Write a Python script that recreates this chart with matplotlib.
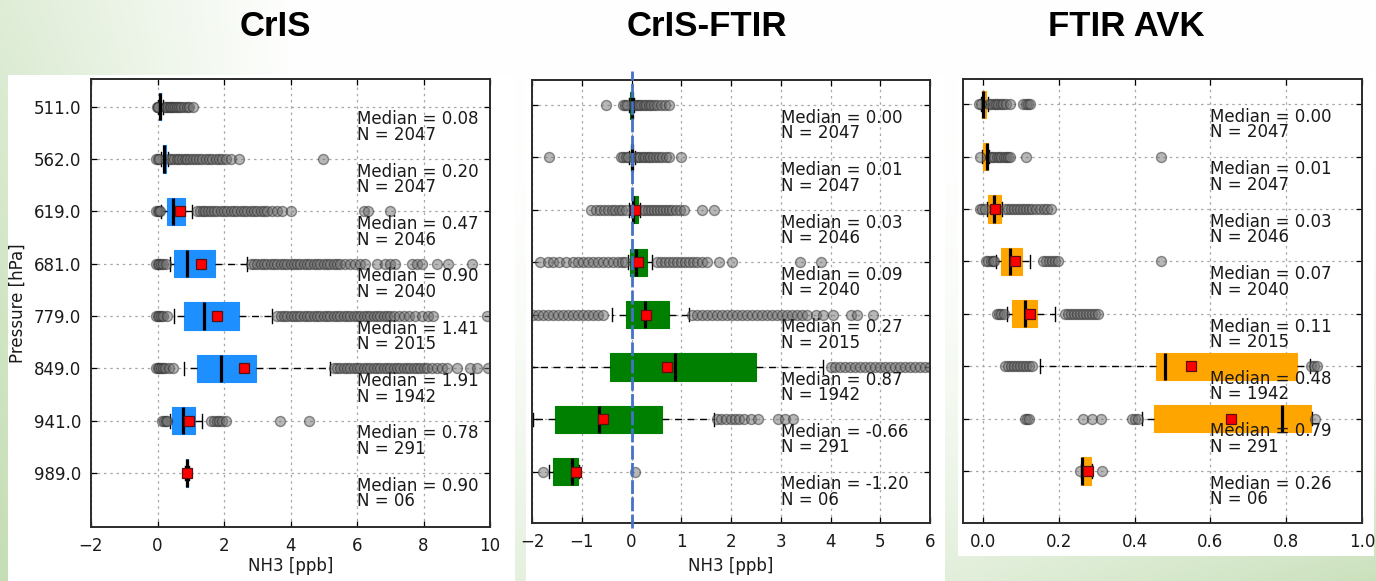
import numpy as np
import matplotlib
matplotlib.use("Agg")
import matplotlib.pyplot as plt
from matplotlib.patches import Rectangle

nan = np.nan

# ---------------------------------------------------------------- data
pressure_levels = ["511.0", "562.0", "619.0", "681.0", "779.0", "849.0", "941.0", "989.0"]
sample_counts = ["2047", "2047", "2046", "2040", "2015", "1942", "291", "06"]

# CrIS retrieval
cris_median = [0.08, 0.20, 0.47, 0.90, 1.41, 1.91, 0.78, 0.90]
cris_q1 = [0.05, 0.16, 0.29, 0.50, 0.80, 1.19, 0.45, 0.86]
cris_q3 = [0.12, 0.26, 0.84, 1.72, 2.45, 2.96, 1.12, 0.93]
cris_whislo = [0.02, 0.12, 0.12, 0.38, 0.50, 0.80, 0.38, 0.84]
cris_whishi = [0.18, 0.32, 1.05, 2.70, 3.45, 5.20, 1.35, 0.95]
cris_mean = [nan, nan, 0.69, 1.31, 1.80, 2.60, 0.94, 0.90]
cris_fliers = [
    [-0.02, 0.0, 0.02, 0.22, 0.27, 0.32, 0.37, 0.42, 0.48, 0.54, 0.6, 0.66, 0.72, 0.8, 0.88, 0.96, 1.06],
    [-0.04, 0.0, 0.04, 0.36, 0.42, 0.5, 0.58, 0.66, 0.74, 0.82, 0.9, 0.98, 1.06, 1.15, 1.25, 1.35,
     1.45, 1.55, 1.65, 1.75, 1.85, 1.95, 2.05, 2.2, 2.45, 4.98],
    [-0.04, 0.0, 0.04, 0.08, 1.2, 1.28, 1.36, 1.44, 1.52, 1.6, 1.7, 1.8, 1.9, 2.0, 2.1, 2.2, 2.3, 2.4,
     2.5, 2.6, 2.7, 2.8, 2.9, 3.0, 3.1, 3.2, 3.3, 3.45, 3.6, 3.75, 4.0, 6.2, 6.32, 7.0],
    [-0.04, 0.0, 0.04, 0.1, 0.18, 0.26, 2.82, 2.9, 3.0, 3.1, 3.2, 3.3, 3.4, 3.5, 3.6, 3.7, 3.8, 3.9,
     4.0, 4.1, 4.2, 4.3, 4.4, 4.5, 4.6, 4.7, 4.8, 4.9, 5.0, 5.1, 5.2, 5.3, 5.4, 5.5, 5.65, 5.8, 5.95,
     6.1, 6.25, 6.6, 6.85, 7.0, 7.15, 7.65, 7.8, 7.95, 8.4, 8.75, 9.45],
    [-0.05, 0.0, 0.05, 0.1, 0.18, 0.28, 3.6, 3.7, 3.8, 3.9, 4.0, 4.1, 4.2, 4.3, 4.4, 4.5, 4.6, 4.7,
     4.8, 4.9, 5.0, 5.1, 5.2, 5.3, 5.4, 5.5, 5.6, 5.7, 5.8, 5.9, 6.0, 6.1, 6.2, 6.3, 6.4, 6.5, 6.6,
     6.7, 6.8, 6.9, 7.0, 7.1, 7.25, 7.4, 7.55, 7.75, 7.95, 8.15, 8.3, 9.9],
    [-0.05, 0.0, 0.05, 0.1, 0.16, 0.24, 0.34, 0.46, 5.3, 5.4, 5.5, 5.6, 5.7, 5.8, 5.9, 6.0, 6.1, 6.2,
     6.3, 6.4, 6.5, 6.6, 6.7, 6.8, 6.9, 7.0, 7.1, 7.2, 7.3, 7.4, 7.5, 7.6, 7.7, 7.8, 7.9, 8.0, 8.1,
     8.25, 8.4, 8.55, 8.7, 9.0, 9.4, 9.6, 9.95],
    [0.15, 0.2, 0.25, 0.3, 1.62, 1.7, 1.78, 1.86, 1.95, 2.05, 3.68, 4.55],
    [],
]

# CrIS minus FTIR
diff_median = [0.00, 0.01, 0.03, 0.09, 0.27, 0.87, -0.66, -1.20]
diff_q1 = [-0.03, -0.02, 0.00, -0.03, -0.11, -0.44, -1.53, -1.57]
diff_q3 = [0.03, 0.04, 0.14, 0.32, 0.76, 2.51, 0.62, -1.08]
diff_whislo = [-0.06, -0.06, -0.06, -0.08, -0.40, -2.60, -1.98, -1.65]
diff_whishi = [0.06, 0.08, 0.18, 0.42, 1.15, 3.85, 1.65, -1.05]
diff_mean = [nan, nan, 0.07, 0.14, 0.30, 0.72, -0.58, -1.11]
diff_fliers = [
    [-0.51, -0.18, -0.14, -0.1, 0.08, 0.12, 0.16, 0.2, 0.25, 0.3, 0.35, 0.4, 0.46, 0.52, 0.6, 0.68, 0.76],
    [-1.65, -0.22, -0.17, -0.12, -0.08, 0.1, 0.14, 0.18, 0.23, 0.28, 0.33, 0.38, 0.44, 0.5, 0.56,
     0.62, 0.7, 0.76, 0.99],
    [-0.82, -0.72, -0.64, -0.56, -0.48, -0.4, -0.33, -0.26, -0.19, -0.12, 0.22, 0.28, 0.34, 0.4,
     0.46, 0.52, 0.58, 0.64, 0.7, 0.76, 0.82, 0.9, 0.98, 1.06, 1.42, 1.66],
    [-1.84, -1.68, -1.58, -1.45, -1.32, -1.18, -1.08, -0.98, -0.88, -0.78, -0.68, -0.58, -0.48,
     -0.38, -0.28, -0.2, -0.13, 0.52, 0.6, 0.68, 0.76, 0.84, 0.92, 1.0, 1.08, 1.16, 1.24, 1.32,
     1.42, 1.52, 1.75, 2.02, 3.38, 3.8],
    [-1.98, -1.88, -1.78, -1.68, -1.58, -1.48, -1.38, -1.28, -1.18, -1.08, -0.98, -0.88, -0.78,
     -0.68, -0.58, 1.22, 1.32, 1.42, 1.52, 1.62, 1.72, 1.82, 1.92, 2.02, 2.12, 2.22, 2.32, 2.42,
     2.52, 2.62, 2.72, 2.82, 2.92, 3.02, 3.12, 3.22, 3.32, 3.42, 3.52, 3.7, 3.85, 4.05, 4.42, 4.54, 4.85],
    [4.0, 4.1, 4.2, 4.3, 4.4, 4.5, 4.6, 4.7, 4.8, 4.9, 5.0, 5.1, 5.2, 5.3, 5.4, 5.5, 5.6, 5.7, 5.8,
     5.9, 6.0, 6.1],
    [1.72, 1.8, 1.9, 2.0, 2.08, 2.16, 2.26, 2.4, 2.55, 2.95, 3.08, 3.25],
    [-1.78, 0.07],
]

# FTIR smoothed with averaging kernel
avk_median = [0.00, 0.01, 0.03, 0.07, 0.11, 0.48, 0.79, 0.26]
avk_q1 = [-0.003, 0.0, 0.014, 0.047, 0.077, 0.456, 0.452, 0.26]
avk_q3 = [0.008, 0.012, 0.047, 0.102, 0.143, 0.828, 0.865, 0.284]
avk_whislo = [-0.006, -0.004, 0.01, 0.035, 0.062, 0.15, 0.42, 0.258]
avk_whishi = [0.012, 0.015, 0.05, 0.125, 0.19, 0.862, 0.868, 0.287]
avk_mean = [nan, nan, 0.032, 0.083, 0.124, 0.55, 0.654, 0.276]
avk_fliers = [
    [-0.01, -0.006, 0.016, 0.022, 0.028, 0.034, 0.04, 0.046, 0.052, 0.06, 0.07, 0.106, 0.112, 0.118, 0.124],
    [-0.008, 0.018, 0.024, 0.03, 0.036, 0.042, 0.048, 0.054, 0.06, 0.066, 0.072, 0.114, 0.47],
    [-0.008, -0.002, 0.004, 0.058, 0.066, 0.074, 0.082, 0.09, 0.098, 0.106, 0.114, 0.122, 0.13,
     0.14, 0.15, 0.16, 0.17, 0.178],
    [0.008, 0.014, 0.02, 0.026, 0.03, 0.157, 0.165, 0.173, 0.181, 0.19, 0.198, 0.47],
    [0.036, 0.042, 0.048, 0.054, 0.215, 0.223, 0.231, 0.239, 0.247, 0.255, 0.263, 0.271, 0.279,
     0.287, 0.295, 0.302],
    [0.058, 0.066, 0.074, 0.082, 0.09, 0.098, 0.106, 0.114, 0.122, 0.13, 0.866, 0.874, 0.882],
    [0.11, 0.116, 0.122, 0.265, 0.288, 0.31, 0.392, 0.4, 0.408, 0.876],
    [0.256, 0.313],
]

# ---------------------------------------------------------------- figure
W, H = 1376, 581
fig = plt.figure(figsize=(W / 100, H / 100), dpi=100)

# slide background: soft green wash on the left and along the bottom
yy, xx = np.mgrid[0:H, 0:W]
left_wash = np.clip(1 - xx / 300.0, 0, 1) * (0.55 + 0.45 * yy / H)
low_wash = (yy / H) ** 2.5 * (0.45 + 0.45 * np.clip((xx - 900) / 476.0, 0, 1))
t = np.clip(np.maximum(left_wash, low_wash), 0, 1)[..., None]
green = np.array([0.77, 0.87, 0.71])
bg = (1 - t) * np.ones(3) + t * green
bg_ax = fig.add_axes([0, 0, 1, 1], zorder=-10)
bg_ax.imshow(bg, aspect="auto", extent=[0, 1, 0, 1], interpolation="bilinear")
bg_ax.axis("off")

# white cards holding each plot
for x0, y0, x1, y1 in [(8, 75, 515, 581), (526, 75, 945, 581), (958, 75, 1374, 556)]:
    fig.add_artist(Rectangle((x0 / W, 1 - y1 / H), (x1 - x0) / W, (y1 - y0) / H,
                             transform=fig.transFigure, facecolor="white",
                             edgecolor="none", zorder=-5))

# titles
for cx, label in [(275, "CrIS"), (707, "CrIS-FTIR"), (1126, "FTIR AVK")]:
    fig.text(cx / W, 1 - 27 / H, label, ha="center", va="center",
             fontsize=25, fontweight="bold", family="Liberation Sans")


def px_axes(left, top, right, bottom):
    return fig.add_axes([left / W, 1 - bottom / H, (right - left) / W, (bottom - top) / H])


panels = [
    dict(rect=(91, 79, 490, 527), color="#1E8FFF", xlim=(-2, 10), ylim=(9.03, 0.47),
         med=cris_median, q1=cris_q1, q3=cris_q3, lo=cris_whislo, hi=cris_whishi,
         mean=cris_mean, fl=cris_fliers, text_x=6.0, ylabels=True, xlabel=True,
         xticks=[-2, 0, 2, 4, 6, 8, 10]),
    dict(rect=(532, 80, 930, 523), color="#008000", xlim=(-2, 6), ylim=(8.98, 0.52),
         med=diff_median, q1=diff_q1, q3=diff_q3, lo=diff_whislo, hi=diff_whishi,
         mean=diff_mean, fl=diff_fliers, text_x=3.0, ylabels=False, xlabel=True,
         xticks=[-2, -1, 0, 1, 2, 3, 4, 5, 6]),
    dict(rect=(963, 79, 1362, 523), color="#FFA500", xlim=(-0.053, 1.0), ylim=(8.99, 0.52),
         med=avk_median, q1=avk_q1, q3=avk_q3, lo=avk_whislo, hi=avk_whishi,
         mean=avk_mean, fl=avk_fliers, text_x=0.6, ylabels=False, xlabel=False,
         xticks=[0.0, 0.2, 0.4, 0.6, 0.8, 1.0]),
]

positions = np.arange(1, len(pressure_levels) + 1)

for i, p in enumerate(panels):
    ax = px_axes(*p["rect"])
    stats = []
    for k in range(len(pressure_levels)):
        stats.append(dict(med=p["med"][k], q1=p["q1"][k], q3=p["q3"][k],
                          whislo=p["lo"][k], whishi=p["hi"][k],
                          mean=p["mean"][k], fliers=np.array(p["fl"][k])))
    ax.bxp(stats, positions=positions, widths=0.52, orientation="horizontal",
           patch_artist=True, showmeans=True, manage_ticks=False,
           boxprops=dict(facecolor=p["color"], edgecolor=p["color"], linewidth=0.8),
           medianprops=dict(color="black", linewidth=2.3),
           whiskerprops=dict(color="black", linewidth=1.0, linestyle=(0, (5, 4))),
           capprops=dict(color="black", linewidth=1.0),
           flierprops=dict(marker="o", markersize=7.2, markerfacecolor="#707070",
                           markeredgecolor="#2a2a2a", markeredgewidth=1.0, alpha=0.5),
           meanprops=dict(marker="s", markersize=6.5, markerfacecolor="red",
                          markeredgecolor="#5a1010", markeredgewidth=0.9))

    for k, pos in enumerate(positions):
        ax.text(p["text_x"], pos + 0.39,
                f"Median = {p['med'][k]:.2f}\nN = {sample_counts[k]}",
                ha="left", va="center", fontsize=12, color="#1a1a1a", linespacing=0.82)

    ax.set_xlim(*p["xlim"])
    ax.set_ylim(*p["ylim"])
    ax.set_xticks(p["xticks"])
    ax.set_yticks(positions)
    if p["ylabels"]:
        ax.set_yticklabels(pressure_levels)
        ax.set_ylabel("Pressure [hPa]", fontsize=12, color="#1a1a1a")
        ax.yaxis.set_label_coords(-0.16, 0.5)
    else:
        ax.set_yticklabels([])
    if p["xlabel"]:
        ax.set_xlabel("NH3 [ppb]", fontsize=12, color="#1a1a1a")
        ax.xaxis.set_label_coords(0.5, -0.068 if i == 0 else -0.077)
    ax.tick_params(direction="in", length=4, width=0.9, top=True, right=True,
                   labelsize=12, labelcolor="#1a1a1a", pad=7)
    ax.grid(True, color="#a8a8a8", linestyle=(0, (2, 3)), linewidth=0.9)
    ax.set_axisbelow(True)
    for s in ax.spines.values():
        s.set_linewidth(1.4)
        s.set_color("#2b2b2b")

    if i == 1:
        ax.axvline(0, ymin=-0.012, ymax=1.02, clip_on=False, color="#4472C4",
                   linewidth=2.0, linestyle=(0, (5, 1.2)), zorder=4)

fig.savefig("out.png", dpi=100)
